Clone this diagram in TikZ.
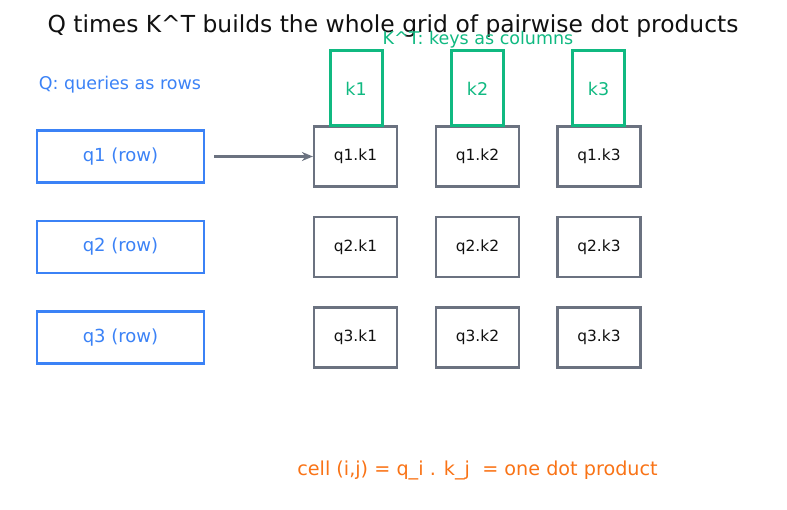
\documentclass[tikz,border=0pt]{standalone}
\usepackage{fontspec}
\setmainfont{DejaVu Sans}
\usepackage{xcolor}
\usetikzlibrary{arrows.meta,positioning,calc}
\definecolor{qcolor}{RGB}{59,130,246}
\definecolor{kcolor}{RGB}{16,185,129}
\definecolor{cellcolor}{RGB}{107,114,128}
\definecolor{notecolor}{RGB}{249,115,22}
\definecolor{titlecolor}{RGB}{17,17,17}

\tikzset{
    qbox/.style={draw=qcolor, line width=2.8pt, minimum width=167pt, minimum height=52pt, text=qcolor, font=\fontsize{18}{21}\selectfont},
    kbox/.style={draw=kcolor, line width=3pt, minimum width=52pt, minimum height=75pt, text=kcolor, font=\fontsize{17.5}{21}\selectfont},
    cellbox/.style={draw=cellcolor, line width=2.2pt, fill=white, minimum width=83pt, minimum height=60pt, text=titlecolor, font=\fontsize{15.4}{18}\selectfont},
    label/.style={font=\fontsize{17.5}{21}\selectfont}
}

\begin{document}
\begin{tikzpicture}[x=1pt,y=-1pt]
    \useasboundingbox (0,0) rectangle (787,510);

    % title and captions
    \node[font=\fontsize{23.4}{28}\selectfont, text=titlecolor] (title) at (393,26) {Q times K\textasciicircum T builds the whole grid of pairwise dot products};
    \node[label, text=qcolor] (qcap) at (120,85) {Q: queries as rows};

    % query rows
    \node[qbox] (q1) at (120.5,156.5) {q1 (row)};
    \node[qbox] (q2) at (120.5,247) {q2 (row)};
    \node[qbox] (q3) at (120.5,337.5) {q3 (row)};

    % grid of dot products
    \foreach \i/\y in {1/156.5, 2/247, 3/337.5} {
        \foreach \j/\x in {1/355.5, 2/477.5, 3/599} {
            \node[cellbox] (c\i\j) at (\x,\y) {q\i.k\j};
        }
    }

    % key columns
    \foreach \j/\x in {1/356, 2/477.5, 3/598.5} {
        \node[kbox] (k\j) at (\x,88.5) {k\j};
    }
    \node[label, text=kcolor] (kcap) at (478,39.5) {K\textasciicircum T: keys as columns};

    \draw[-{Stealth[length=11pt,width=9pt]}, draw=cellcolor, line width=2.2pt, shorten <=9pt] (q1.east) -- (c11.west);

    \node[font=\fontsize{19.2}{23}\selectfont, text=notecolor] (note) at (477.5,470) {cell (i,j) = q\_i . k\_j \ = one dot product};
\end{tikzpicture}
\end{document}
